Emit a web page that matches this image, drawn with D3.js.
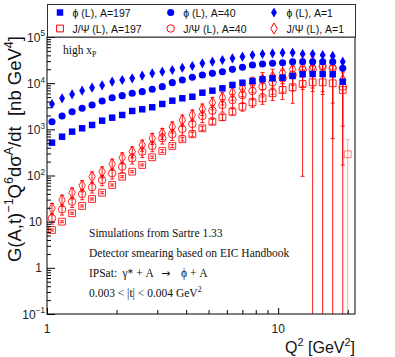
<!DOCTYPE html>
<html>
<head>
<meta charset="utf-8">
<title>Sartre phi / J/psi Q2 dependence</title>
<script src="https://d3js.org/d3.v7.min.js"></script>
<style>
	body { margin: 0; background: #fff; }
	text { font-family: "Liberation Sans", Arial, sans-serif; }
	.serif { font-family: "Liberation Serif", "Times New Roman", serif; }
</style>
</head>
<body>
<svg id="chart" width="395" height="357"></svg>
<script>

	// Q2 bin centres (GeV^2)
	var q2 = [1.051, 1.162, 1.284, 1.419, 1.567, 1.732, 1.914, 2.115, 2.337, 2.582,
		2.853, 3.153, 3.484, 3.850, 4.254, 4.701, 5.194, 5.740, 6.342, 7.008,
		7.744, 8.557, 9.458, 10.45, 11.55, 12.76, 14.10, 15.58, 17.22, 19.03];

	// phi (L)
	var phi197 = [514, 693, 890, 1054, 1243, 1541, 1790, 2048, 2497, 2718,
		3004, 3540, 4170, 4700, 5090, 6215, 6870, 7740, 9130, 10230,
		11140, 12130, 12740, 13130, 14290, 15560, 15810, 15810, 15560, 10770];
	var phi40 = [1463, 1945, 2410, 2857, 3367, 4110, 4845, 5355, 6035, 6537,
		7370, 8390, 10240, 11720, 13410, 15030, 16350, 17710, 19960, 22070,
		24760, 26020, 26960, 27760, 29170, 29170, 29170, 29170, 29170, 20990];
	var phi1 = [3540, 4700, 5740, 6870, 7980, 9000, 10770, 11720, 12740, 14500,
		16350, 17700, 19270, 21600, 23540, 26930, 29170, 31770, 34570, 37470,
		40780, 42850, 44370, 45710, 45710, 42850, 42850, 40780, 38870, 29170];

	// J/Psi (L)
	var jpsi197 = [6.6, 10.0, 15.2, 21.9, 31.0, 42.4, 62.3, 94.2, 121, 169,
		248, 340, 436, 609, 781, 1054, 1463, 1823, 2412, 3093,
		3853, 4700, 6035, 7115, 8140, 9600, 10440, 10440, 9930, 7115];
	var jpsi40 = [11.8, 18.5, 27.1, 39.8, 55.6, 80.0, 112, 155, 236, 328,
		436, 640, 781, 1017, 1306, 1945, 2535, 3367, 4317, 5543,
		6765, 8390, 10450, 12740, 15030, 19270, 19960, 22740, 20990, 8390];
	var jpsi1 = [19.5, 29.5, 42.5, 60.8, 94.2, 121, 177, 243, 328, 458,
		640, 821, 1141, 1593, 2047, 2761, 3779, 4845, 6220, 7745,
		9940, 12130, 13810, 16860, 19960, 20990, 22400, 23540, 21810, 11720];

	// relative statistical errors of the J/Psi points
	var jpsi197Err = [0.05, 0.05, 0.05, 0.05, 0.05, 0.05, 0.05, 0.05, 0.05, 0.05,
		0.06, 0.07, 0.08, 0.08, 0.1, 0.1, 0.12, 0.14, 0.16, 0.2,
		0.22, 0.26, 0.3, 0.38, 0.55, 0.99, 1.3, 1.4, 1.5, 1.6];
	var jpsi40Err = [0.25, 0.25, 0.25, 0.25, 0.25, 0.25, 0.25, 0.25, 0.25, 0.25,
		0.25, 0.25, 0.27, 0.27, 0.28, 0.28, 0.3, 0.3, 0.32, 0.34,
		0.36, 0.4, 0.45, 0.5, 0.55, 0.62, 0.67, 0.75, 0.97, 0.98];
	var jpsi1Err = [0.27, 0.27, 0.27, 0.27, 0.27, 0.27, 0.27, 0.27, 0.27, 0.27,
		0.27, 0.27, 0.27, 0.28, 0.28, 0.28, 0.3, 0.3, 0.32, 0.34,
		0.36, 0.4, 0.45, 0.5, 0.55, 0.6, 0.65, 0.72, 0.83, 0.9];

	// lone last J/Psi A=197 point (drawn faded)
	var extraQ2 = [20.0];
	var extraVal = [288];
	var extraErr = [1.1];

	var legendLabels = ["\u03d5 (L), A=197", "\u03d5 (L), A=40", "\u03d5 (L), A=1",
		"J/\u03a8 (L), A=197", "J/\u03a8 (L), A=40", "J/\u03a8 (L), A=1"];

	var yMajor = [0.1, 1, 10, 100, 1000, 10000, 100000];
	var yMajorLabels = [["10", "\u22121"], ["1", ""], ["10", ""], ["10", "2"], ["10", "3"], ["10", "4"], ["10", "5"]];
	var xMajor = [1, 10];
	var xMajorLabels = ["1", "10"];
	var xMinor = [2, 3, 4, 5, 6, 7, 8, 9, 20];

	var blue = "#0000ff", red = "#ff0000";

	var svg = d3.select("#chart");

	var x = d3.scaleLog().domain([1, 21.5]).range([47, 355]);
	var y = d3.scaleLog().domain([0.1, 1e5]).range([314, 37]);

	// write a label made of normal / superscript / subscript pieces
	function addParts(sel, parts, fs) {
		var shift = 0;
		parts.forEach(function(p) {
			var target = p.sup ? -0.42 * fs : (p.sub ? 0.28 * fs : 0);
			var ts = sel.append("tspan").attr("dy", target - shift).text(p.t);
			if (p.sup || p.sub) ts.attr("font-size", fs * 0.68);
			shift = target;
		});
	}

	svg.append("defs").append("clipPath").attr("id", "plotclip")
		.append("rect").attr("x", 47).attr("y", 37).attr("width", 308).attr("height", 277);

	var plot = svg.append("g").attr("clip-path", "url(#plotclip)");

	// ticks (inward)
	var minorY = [];
	yMajor.slice(0, -1).forEach(function(d) {
		for (var k = 2; k <= 9; k++) minorY.push(d * k);
	});
	svg.append("g").attr("transform", "translate(47,0)")
		.call(d3.axisRight(y).tickValues(yMajor).tickSize(8).tickFormat(""))
		.call(function(g) { g.select(".domain").remove(); });
	svg.append("g").attr("transform", "translate(47,0)")
		.call(d3.axisRight(y).tickValues(minorY).tickSize(4).tickFormat(""))
		.call(function(g) { g.select(".domain").remove(); });
	svg.append("g").attr("transform", "translate(0,314)")
		.call(d3.axisTop(x).tickValues(xMajor).tickSize(6).tickFormat(""))
		.call(function(g) { g.select(".domain").remove(); });
	svg.append("g").attr("transform", "translate(0,314)")
		.call(d3.axisTop(x).tickValues(xMinor).tickSize(4).tickFormat(""))
		.call(function(g) { g.select(".domain").remove(); });

	// frame
	svg.append("rect").attr("x", 47).attr("y", 37).attr("width", 308).attr("height", 277)
		.attr("fill", "none").attr("stroke", "#000").attr("stroke-width", 1);

	// y tick labels
	yMajor.forEach(function(d, i) {
		var lab = yMajorLabels[i];
		var t = svg.append("text")
			.attr("x", lab[1] ? 45 : 42)
			.attr("y", y(d) + 4.5)
			.attr("text-anchor", "end")
			.attr("font-size", 12)
			.attr("fill", "#222");
		var parts = [{t: lab[0]}];
		if (lab[1]) parts.push({t: lab[1], sup: true});
		addParts(t, parts, 12);
	});

	// x tick labels
	xMajor.forEach(function(d, i) {
		svg.append("text")
			.attr("x", x(d)).attr("y", 333)
			.attr("text-anchor", "middle")
			.attr("font-size", 12).attr("fill", "#222")
			.text(xMajorLabels[i]);
	});

	// axis titles
	var xt = svg.append("text").attr("x", 355).attr("y", 352.5)
		.attr("text-anchor", "end").attr("font-size", 16).attr("fill", "#111");
	addParts(xt, [{t: "Q"}, {t: "2", sup: true}, {t: " [GeV"}, {t: "2", sup: true}, {t: "]"}], 16);

	var yt = svg.append("text").attr("transform", "translate(21,36) rotate(-90)")
		.attr("text-anchor", "end").attr("font-size", 18.5).attr("fill", "#111")
		.style("white-space", "pre");
	addParts(yt, [{t: "G(A,t)"}, {t: "\u22121", sup: true}, {t: "Q"}, {t: "6", sup: true},
		{t: "d\u03c3"}, {t: "A", sup: true}, {t: "/dt  [nb GeV"}, {t: "4", sup: true}, {t: "]"}], 18.5);

	// series
	var symSquareF = d3.symbol().type(d3.symbolSquare).size(42);
	var symCircleF = d3.symbol().type(d3.symbolCircle).size(40);
	var symDiamondF = d3.symbol().type(d3.symbolDiamond).size(30);
	var symSquareO = d3.symbol().type(d3.symbolSquare).size(46);
	var symCircleO = d3.symbol().type(d3.symbolCircle).size(44);
	var symDiamondO = d3.symbol().type(d3.symbolDiamond).size(36);

	function pts(xs, vals, errs) {
		return xs.map(function(q, i) { return {q: q, v: vals[i], e: errs ? errs[i] : 0}; });
	}

	function drawErrors(data, color, opacity) {
		var g = plot.append("g").attr("stroke", color).attr("stroke-width", 1).attr("opacity", opacity);
		data.forEach(function(d) {
			var hi = d.v * (1 + d.e);
			var lo = d.v * (1 - d.e);
			var yHi = y(hi);
			var yLo = lo > 0.05 ? y(lo) : 330;
			var cx = x(d.q);
			g.append("line").attr("x1", cx).attr("x2", cx).attr("y1", yHi).attr("y2", yLo);
			g.append("line").attr("x1", cx - 2).attr("x2", cx + 2).attr("y1", yHi).attr("y2", yHi);
			if (lo > 0.05) g.append("line").attr("x1", cx - 2).attr("x2", cx + 2).attr("y1", yLo).attr("y2", yLo);
		});
	}

	function drawMarkers(data, sym, color, filled, opacity) {
		plot.append("g").selectAll("path").data(data).enter().append("path")
			.attr("d", sym)
			.attr("transform", function(d) { return "translate(" + x(d.q) + "," + y(d.v) + ")"; })
			.attr("fill", filled ? color : "none")
			.attr("stroke", color)
			.attr("stroke-width", filled ? 0 : 1)
			.attr("opacity", opacity || 1);
	}

	var j197 = pts(q2, jpsi197, jpsi197Err);
	var j40 = pts(q2, jpsi40, jpsi40Err);
	var j1 = pts(q2, jpsi1, jpsi1Err);
	var jx = pts(extraQ2, extraVal, extraErr);

	drawErrors(jx, red, 0.35);
	drawErrors(j197, red, 0.9);
	drawErrors(j40, red, 0.9);
	drawErrors(j1, red, 0.9);
	drawMarkers(jx, symSquareO, red, false, 0.5);
	drawMarkers(j197, symSquareO, red, false, 0.85);
	drawMarkers(j40, symCircleO, red, false, 0.85);
	drawMarkers(j1, symDiamondO, red, false, 0.85);

	drawMarkers(pts(q2, phi197), symSquareF, blue, true);
	drawMarkers(pts(q2, phi40), symCircleF, blue, true);
	drawMarkers(pts(q2, phi1), symDiamondF, blue, true);

	// legend
	svg.append("rect").attr("x", 47.5).attr("y", 4.5).attr("width", 308).attr("height", 32.5)
		.attr("fill", "#fff").attr("stroke", "#333").attr("stroke-width", 1);
	var legSyms = [symSquareF, symCircleF, symDiamondF, symSquareO, symCircleO, symDiamondO];
	var legX = [60, 170.7, 274];
	legendLabels.forEach(function(lab, i) {
		var col = i % 3, row = Math.floor(i / 3);
		var ly = row ? 28.5 : 12.5;
		svg.append("path").attr("d", legSyms[i])
			.attr("transform", "translate(" + legX[col] + "," + ly + ")")
			.attr("fill", row ? "none" : blue)
			.attr("stroke", row ? red : "none").attr("stroke-width", 1);
		svg.append("text").attr("x", legX[col] + 12.5).attr("y", ly + 4)
			.attr("font-size", 10.5).attr("fill", "#111").text(lab);
	});

	// annotations
	var hx = svg.append("text").attr("class", "serif").attr("x", 63).attr("y", 53.5)
		.attr("font-size", 11.5).attr("fill", "#111");
	addParts(hx, [{t: "high x"}, {t: "P", sub: true}], 11.5);

	svg.append("text").attr("class", "serif").attr("x", 89).attr("y", 237)
		.attr("font-size", 11.5).attr("fill", "#111").text("Simulations from Sartre 1.33");
	svg.append("text").attr("class", "serif").attr("x", 89).attr("y", 257)
		.attr("font-size", 11.5).attr("fill", "#111").text("Detector smearing based on EIC Handbook");
	var ip = svg.append("text").attr("class", "serif").attr("y", 277)
		.attr("font-size", 11.5).attr("fill", "#111");
	ip.append("tspan").attr("x", 89).text("IPSat:");
	ip.append("tspan").attr("x", 122.5).text("\u03b3* + A");
	ip.append("tspan").attr("x", 161).attr("font-family", "DejaVu Sans").attr("font-size", 11).text("\u2192");
	ip.append("tspan").attr("x", 181).text("\u03d5 + A");
	var tt = svg.append("text").attr("class", "serif").attr("x", 89).attr("y", 297)
		.attr("font-size", 11.5).attr("fill", "#111");
	addParts(tt, [{t: "0.003 < |t| < 0.004 GeV"}, {t: "2", sup: true}], 11.5);

</script>
</body>
</html>
